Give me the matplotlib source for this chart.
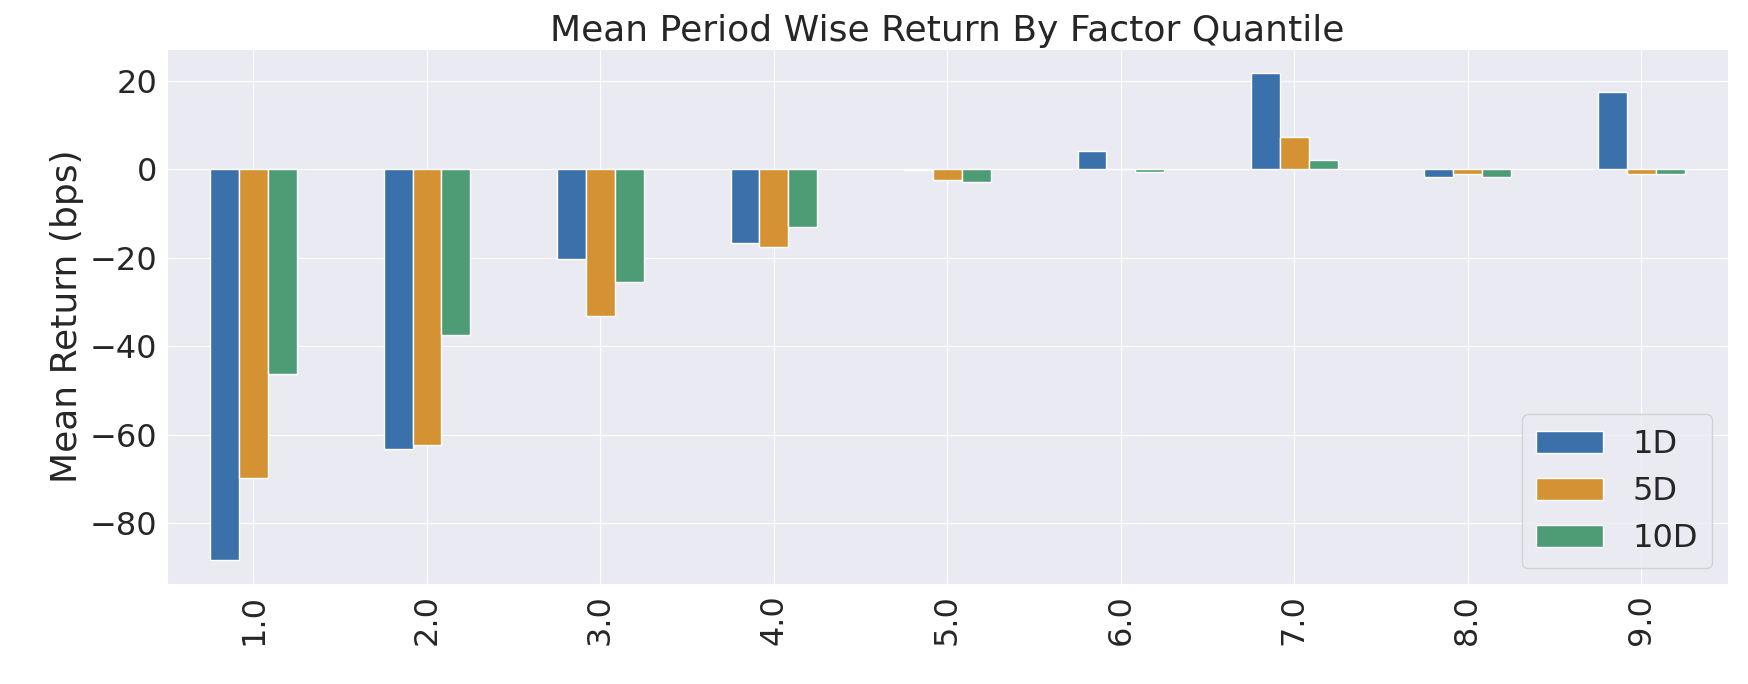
import pandas as pd
import numpy as np
import seaborn as sns
import matplotlib
matplotlib.use('Agg')
import matplotlib.pyplot as plt

sns.set_style('darkgrid')
plt.rcParams['font.family'] = ['DejaVu Sans']

# Cuantiles del factor y retornos medios (bps) por periodo
cuantiles = [1.0, 2.0, 3.0, 4.0, 5.0, 6.0, 7.0, 8.0, 9.0]
ret_1d = [-88.3, -63.2, -20.2, -16.6, -0.15, 4.1, 21.7, -1.7, 17.5]
ret_5d = [-69.7, -62.4, -33.2, -17.5, -2.4, 0.05, 7.3, -1.1, -1.1]
ret_10d = [-46.3, -37.4, -25.4, -13.0, -2.8, -0.7, 2.2, -1.7, -1.1]
periodos = ['1D', '5D', '10D']
colores = ['#3A71AB', '#D49232', '#4E9C76']

datos = pd.DataFrame({'1D': ret_1d, '5D': ret_5d, '10D': ret_10d},
                     index=pd.Index(cuantiles, name='factor_quantile'))

fig, ax = plt.subplots(figsize=(17.48, 6.84), dpi=100)
fig.subplots_adjust(left=0.0954, right=0.9886, top=0.9284, bottom=0.146)

datos[periodos].plot(kind='bar', ax=ax, color=colores, edgecolor='white', linewidth=1)

ax.set_title('Mean Period Wise Return By Factor Quantile', fontsize=26, color='#262626')
ax.set_ylabel('Mean Return (bps)', fontsize=26, color='#262626')
ax.set_xlabel('')
ax.tick_params(axis='both', labelsize=23, colors='#262626')
ax.set_xticklabels([str(c) for c in cuantiles], rotation=90)
ax.legend(loc='lower right', fontsize=23, handlelength=2.1, handleheight=0.68,
          labelspacing=0.5, borderpad=0.45, handletextpad=0.9)

fig.savefig('out.png', dpi=100)
